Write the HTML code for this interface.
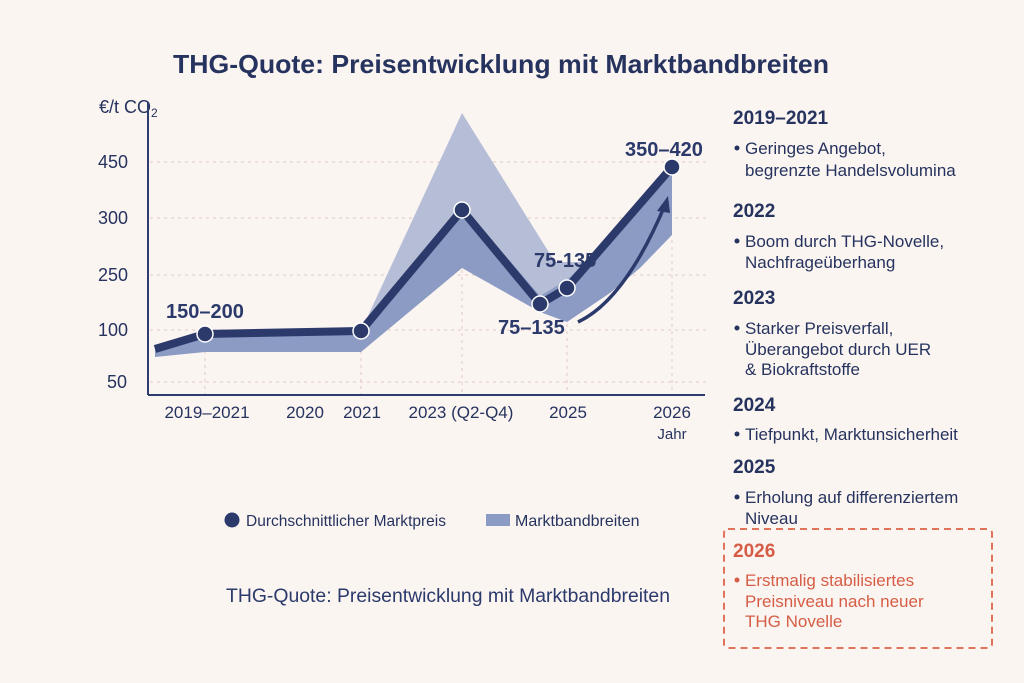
<!DOCTYPE html>
<html><head><meta charset="utf-8"><style>
body{margin:0;background:#fbf5f2;}
svg{display:block;font-family:"Liberation Sans","DejaVu Sans",sans-serif;}
</style></head><body>
<svg width="1024" height="683" viewBox="0 0 1024 683" xmlns="http://www.w3.org/2000/svg">
<rect width="1024" height="683" fill="#fbf5f2"/>
<text x="501" y="73" text-anchor="middle" font-size="26" font-weight="bold" fill="#26335e" textLength="656" lengthAdjust="spacingAndGlyphs">THG-Quote: Preisentwicklung mit Marktbandbreiten</text>
<g stroke="#e3c9c4" stroke-dasharray="3,4" stroke-width="1">
<line x1="150" y1="162" x2="710" y2="162"/><line x1="150" y1="218" x2="710" y2="218"/>
<line x1="150" y1="275" x2="710" y2="275"/><line x1="150" y1="330" x2="710" y2="330"/>
<line x1="150" y1="382" x2="710" y2="382"/>
<line x1="205" y1="330" x2="205" y2="395"/><line x1="361" y1="330" x2="361" y2="395"/>
<line x1="462" y1="270" x2="462" y2="395"/><line x1="567" y1="310" x2="567" y2="395"/><line x1="672" y1="240" x2="672" y2="395"/>
</g>
<g font-size="18" fill="#26335e">
<text x="99" y="113">€/t CO<tspan font-size="12" dy="4">2</tspan></text>
<text x="98" y="168">450</text><text x="98" y="224">300</text><text x="98" y="281">250</text>
<text x="98" y="336">100</text><text x="107" y="388">50</text>
</g>
<polygon points="361,331 462,113 555,262 590,262 567,288 540,304 462,210" fill="#b6bdd6"/>
<polygon points="155,346 205,330 361,328 462,205 540,296 567,280 620,230 672,168 672,235 640,268 610,293 567,322 540,312 462,268 361,352 205,352 155,357" fill="#8c9bc4"/>
<g stroke="#2d3d70" stroke-width="2"><line x1="148" y1="102" x2="148" y2="395"/><line x1="148" y1="395" x2="705" y2="395"/></g>
<polyline points="155,349 205,334 361,331 462,210 540,304 567,288 672,167" fill="none" stroke="#2b3a6b" stroke-width="8" stroke-linejoin="round"/>
<path d="M578,322 Q625,300 665,205" fill="none" stroke="#2b3a6b" stroke-width="3.5"/>
<polygon points="668,196 657,211 670,213" fill="#2b3a6b"/>
<g fill="#2b3a6b" stroke="#fff" stroke-width="1.5">
<circle cx="205" cy="334" r="8"/><circle cx="361" cy="331" r="8"/><circle cx="462" cy="210" r="8"/>
<circle cx="540" cy="304" r="8"/><circle cx="567" cy="288" r="8"/><circle cx="672" cy="167" r="8"/></g>
<g font-size="20" font-weight="bold" fill="#2b3a6b">
<text x="166" y="318">150–200</text><text x="498" y="334">75–135</text>
<text x="534" y="267">75-135</text><text x="625" y="156">350–420</text></g>
<g font-size="17" fill="#26335e" text-anchor="middle">
<text x="207" y="418">2019–2021</text><text x="305" y="418">2020</text><text x="362" y="418">2021</text>
<text x="461" y="418">2023 (Q2-Q4)</text><text x="568" y="418">2025</text><text x="672" y="418">2026</text>
<text x="672" y="439" font-size="15">Jahr</text></g>
<circle cx="232" cy="520" r="7.5" fill="#2b3a6b"/>
<text x="246" y="526" font-size="16" fill="#26335e" textLength="200" lengthAdjust="spacingAndGlyphs">Durchschnittlicher Marktpreis</text>
<rect x="486" y="514" width="24" height="12" fill="#8c9bc4"/>
<text x="515" y="526" font-size="16" fill="#26335e">Marktbandbreiten</text>
<text x="226" y="602" font-size="19" fill="#2b3a6b" textLength="444" lengthAdjust="spacingAndGlyphs">THG-Quote: Preisentwicklung mit Marktbandbreiten</text>
<g fill="#26335e">
<g font-size="19" font-weight="bold">
<text x="733" y="124">2019–2021</text><text x="733" y="217">2022</text><text x="733" y="304">2023</text>
<text x="733" y="411">2024</text><text x="733" y="473">2025</text></g>
<g font-size="17">
<text x="745" y="154">Geringes Angebot,</text><text x="745" y="176">begrenzte Handelsvolumina</text>
<text x="745" y="247">Boom durch THG-Novelle,</text><text x="745" y="268">Nachfrageüberhang</text>
<text x="745" y="334">Starker Preisverfall,</text><text x="745" y="355">Überangebot durch UER</text><text x="745" y="375">&amp; Biokraftstoffe</text>
<text x="745" y="440">Tiefpunkt, Marktunsicherheit</text>
<text x="745" y="503">Erholung auf differenziertem</text><text x="745" y="524">Niveau</text></g>
<circle cx="737" cy="148" r="2.5"/><circle cx="737" cy="241" r="2.5"/><circle cx="737" cy="328" r="2.5"/>
<circle cx="737" cy="434" r="2.5"/><circle cx="737" cy="497" r="2.5"/></g>
<rect x="724" y="529" width="268" height="119" fill="none" stroke="#e0735a" stroke-width="2" stroke-dasharray="7,5" rx="4"/>
<g fill="#d65d45">
<text x="733" y="557" font-size="19" font-weight="bold">2026</text>
<circle cx="737" cy="580" r="2.5"/>
<g font-size="17"><text x="745" y="586">Erstmalig stabilisiertes</text><text x="745" y="607">Preisniveau nach neuer</text><text x="745" y="627">THG Novelle</text></g></g>
</svg>
</body></html>
